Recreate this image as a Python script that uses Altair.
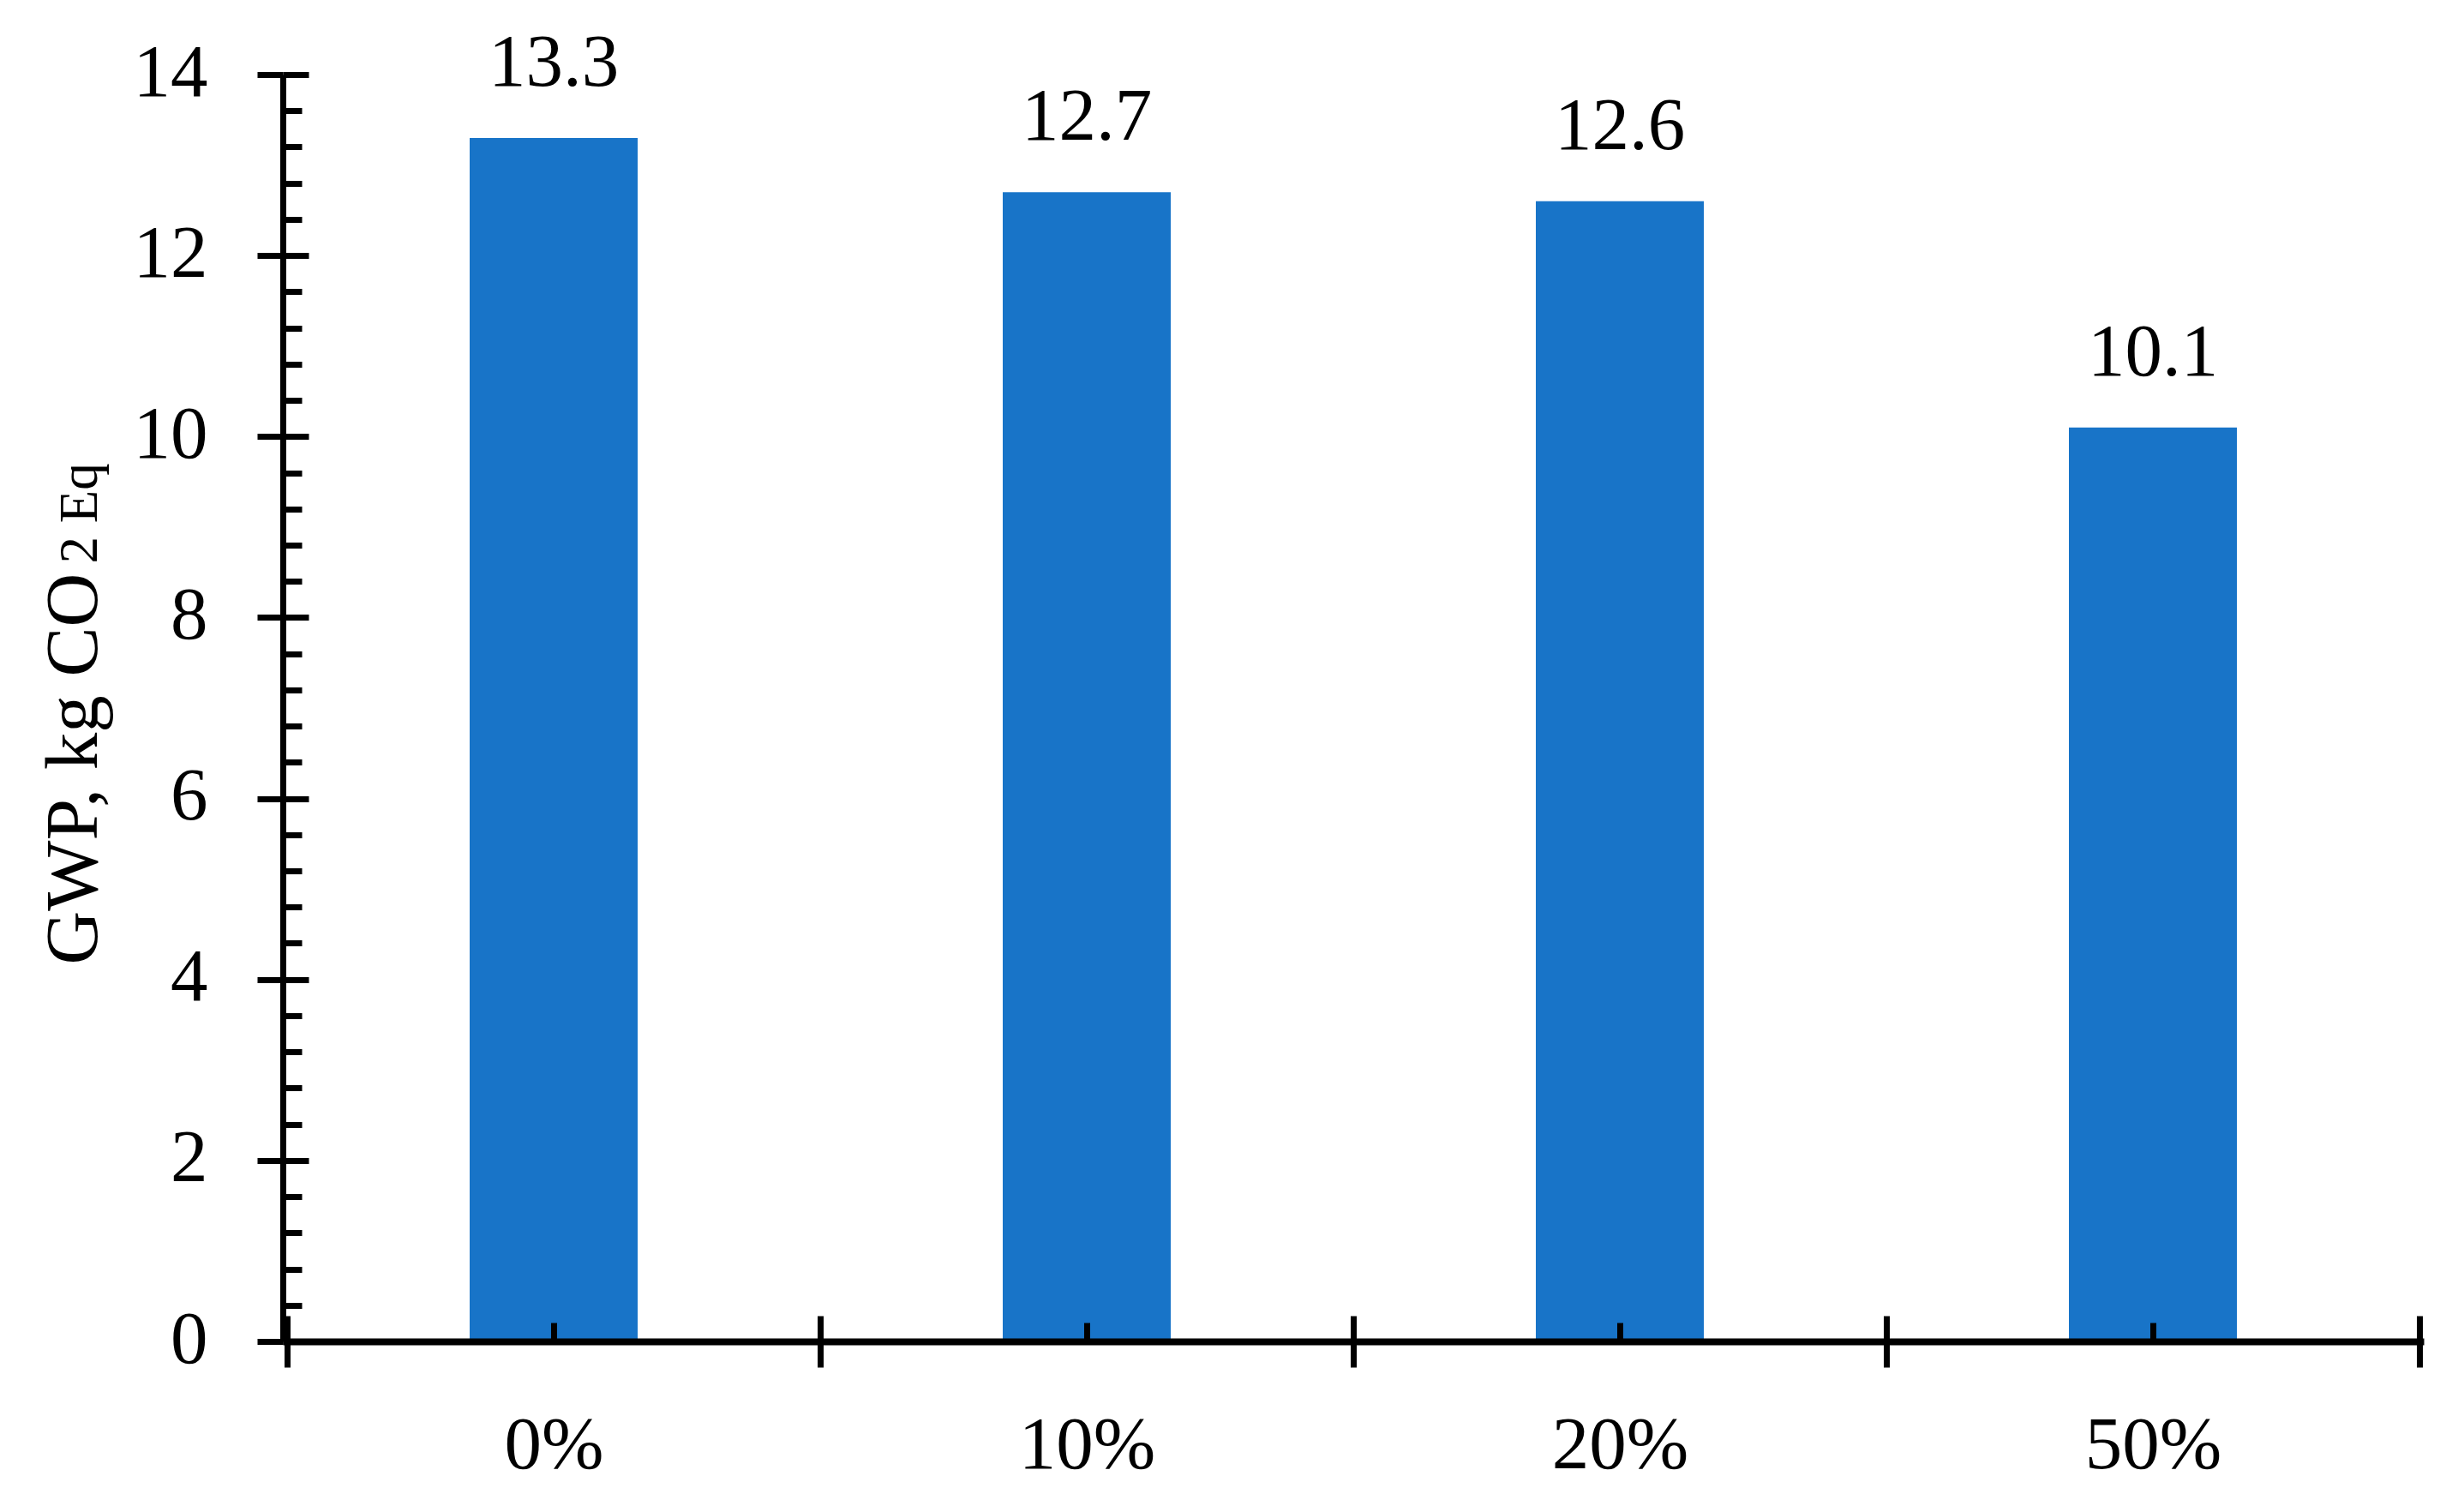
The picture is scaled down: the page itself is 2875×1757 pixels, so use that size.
import altair as alt
import pandas as pd

categories = ["0%", "10%", "20%", "50%"]
values = [13.3, 12.7, 12.6, 10.1]
major_ticks = [0, 2, 4, 6, 8, 10, 12, 14]
minor_ticks = [round(i * 0.4, 1) for i in range(36) if round(i * 0.4, 1) not in major_ticks]
title_main = "GWP, kg CO"
title_small = "2 Eq"

df = pd.DataFrame({
    "cat": categories,
    "pos": [i + 0.5 for i in range(len(categories))],
    "value": values,
})

FONT = "Liberation Serif"
FS = 87
COLOR = "#1874C8"
LW = 7

bounds = list(range(len(categories) + 1))
centers = [i + 0.5 for i in range(len(categories))]
label_expr = "[" + ",".join('"%s"' % c for c in categories) + "][floor(datum.value)]"

xscale = alt.Scale(domain=[0, len(categories)], nice=False, zero=False)
yscale = alt.Scale(domain=[0, 14], nice=False)

common_axis = dict(grid=False, zindex=1, tickColor="black", tickWidth=LW, domainColor="black")

# Layer 1: bars with main axes
x_a = alt.Axis(orient="bottom", values=bounds, tickSize=30, labels=False, title=None,
               domain=True, domainWidth=8, **common_axis)
y_a = alt.Axis(orient="left", values=major_ticks, tickSize=30, labels=True, labelFont=FONT,
               labelFontSize=FS, labelColor="black", labelPadding=58, labelBaseline="alphabetic",
               labelOffset=24, domain=True, domainWidth=LW,
               title=title_main, titleFont=FONT, titleFontSize=FS, titleFontWeight="normal",
               titleColor="black", titleAngle=270, titleAlign="left", titleBaseline="alphabetic",
               titleX=-218, titleY=1038, **common_axis)
bars = alt.Chart(df).mark_bar(size=196, color=COLOR).encode(
    x=alt.X("pos:Q", scale=xscale, axis=x_a),
    y=alt.Y("value:Q", scale=yscale, axis=y_a),
)

# Layer 2: value labels + inward half of major ticks
x_b = alt.Axis(orient="bottom", values=bounds, tickSize=30, offset=-30, labels=False, title=None,
               domain=False, **common_axis)
y_b = alt.Axis(orient="left", values=major_ticks, tickSize=30, offset=-30, labels=False,
               domain=False, title=title_small, titleFont=FONT, titleFontSize=63,
               titleFontWeight="normal", titleColor="black", titleAngle=270, titleAlign="left",
               titleBaseline="alphabetic", titleX=-248, titleY=570, **common_axis)
texts = alt.Chart(df).mark_text(dy=-61, baseline="alphabetic", font=FONT, fontSize=FS,
                                color="black").encode(
    x=alt.X("pos:Q", scale=xscale, axis=x_b),
    y=alt.Y("value:Q", scale=yscale, axis=y_b),
    text=alt.Text("value:Q", format=".1f"),
)

# Layer 3: minor ticks (inside)
x_c = alt.Axis(orient="bottom", values=centers, tickSize=22, offset=-22, labels=False, title=None,
               domain=False, **common_axis)
y_c = alt.Axis(orient="left", values=minor_ticks, tickSize=22, offset=-22, labels=False,
               domain=False, title=None, **common_axis)
minor = alt.Chart(df).mark_bar(size=196, opacity=0).encode(
    x=alt.X("pos:Q", scale=xscale, axis=x_c),
    y=alt.Y("value:Q", scale=yscale, axis=y_c),
)

# Layer 4: category labels
x_d = alt.Axis(orient="bottom", values=centers, ticks=False, tickSize=0, labels=True,
               labelExpr=label_expr, labelFont=FONT, labelFontSize=FS, labelColor="black",
               labelPadding=147, labelBaseline="alphabetic", domain=False, title=None,
               grid=False, zindex=1)
cats = alt.Chart(df).mark_bar(size=196, opacity=0).encode(
    x=alt.X("pos:Q", scale=xscale, axis=x_d),
    y=alt.Y("value:Q", scale=yscale, axis=None),
)

chart = alt.layer(bars, texts, minor, cats).resolve_axis(
    x="independent", y="independent"
).properties(
    width=2498, height=1478,
    padding={"left": 322, "top": 79, "right": 20, "bottom": 188},
    autosize="none",
    background="white",
).configure_view(stroke=None)

chart.save("out.html", embed_options={"renderer": "svg", "actions": False})
